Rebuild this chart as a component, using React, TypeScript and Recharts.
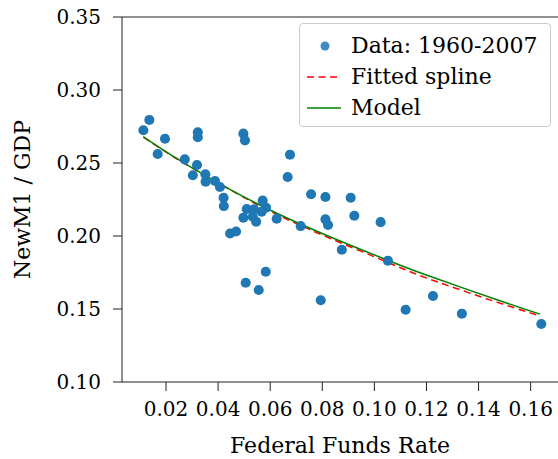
import { ComposedChart, Scatter, Line, XAxis, YAxis, ZAxis, Legend, ReferenceLine } from "recharts"

// annual observations, 1960-2007
const fundsRate = [
  0.0113, 0.0136, 0.0196, 0.0168, 0.0322, 0.0322, 0.0497, 0.0503, 0.0272, 0.0319, 0.0303, 0.0351,
  0.0352, 0.0388, 0.0407, 0.0421, 0.0422, 0.0571, 0.051, 0.0538, 0.0584, 0.0567, 0.0497, 0.0533,
  0.0546, 0.0625, 0.0446, 0.0469, 0.0583, 0.0506, 0.0556, 0.0676, 0.0667, 0.0757, 0.0812, 0.0909,
  0.0717, 0.0812, 0.0822, 0.0923, 0.1024, 0.0875, 0.1052, 0.0794, 0.112, 0.1225, 0.1336, 0.1641,
]
const m1Ratio = [
  0.2724, 0.2795, 0.2666, 0.2562, 0.271, 0.2676, 0.2701, 0.2655, 0.2525, 0.2486, 0.2416, 0.2423,
  0.2372, 0.2377, 0.2336, 0.2262, 0.2205, 0.2242, 0.2185, 0.2183, 0.2194, 0.2166, 0.2125, 0.2132,
  0.2098, 0.2118, 0.2017, 0.2031, 0.1755, 0.168, 0.163, 0.2557, 0.2404, 0.2286, 0.2267, 0.2262,
  0.2068, 0.2114, 0.2075, 0.2139, 0.2095, 0.1906, 0.1831, 0.156, 0.1495, 0.1589, 0.1468, 0.1397,
]

const curveRate = [0.0113, 0.019, 0.0254, 0.0299, 0.0433, 0.0599, 0.0804, 0.1041, 0.1213, 0.1482, 0.1636]
const modelRatio = [0.268, 0.2589, 0.2517, 0.2468, 0.2331, 0.2178, 0.2014, 0.1841, 0.1724, 0.1557, 0.1465]
const splineRatio = [0.2677, 0.2586, 0.2515, 0.2467, 0.233, 0.2171, 0.2004, 0.1827, 0.1704, 0.154, 0.1453]

const xTicks = [0.02, 0.04, 0.06, 0.08, 0.1, 0.12, 0.14, 0.16]
const yTicks = [0.1, 0.15, 0.2, 0.25, 0.3, 0.35]

const points = fundsRate.map((x, i) => ({ x, y: m1Ratio[i] }))
const model = curveRate.map((x, i) => ({ x, y: modelRatio[i] }))
const spline = curveRate.map((x, i) => ({ x, y: splineRatio[i] }))

const font = "'DejaVu Serif', serif"
const tickStyle = { fontFamily: font, fontSize: 20, fill: "#000" }

function LegendBox() {
  const row = { display: "flex", alignItems: "center", height: 31 }
  const text = { fontFamily: font, fontSize: 22, color: "#000", marginLeft: 10, lineHeight: "31px" }
  return (
    <div
      style={{
        width: 252,
        height: 104,
        boxSizing: "border-box",
        border: "1px solid #cccccc",
        borderRadius: 4,
        background: "rgba(255,255,255,0.8)",
        padding: "6px 0 0 7px",
      }}
    >
      <div style={row}>
        <svg width={34} height={20}>
          <circle cx={18} cy={10} r={4.5} fill="#1f77b4" fillOpacity={0.85} />
        </svg>
        <span style={text}>Data: 1960-2007</span>
      </div>
      <div style={row}>
        <svg width={34} height={20}>
          <line x1={0} y1={10} x2={34} y2={10} stroke="#ff0000" strokeWidth={1.5} strokeDasharray="7 4.5" />
        </svg>
        <span style={text}>Fitted spline</span>
      </div>
      <div style={row}>
        <svg width={34} height={20}>
          <line x1={0} y1={10} x2={34} y2={10} stroke="#008000" strokeWidth={1.5} />
        </svg>
        <span style={text}>Model</span>
      </div>
    </div>
  )
}

export default function App() {
  return (
    <div style={{ position: "absolute", left: 0, top: 0, width: 558, height: 459, background: "#fff" }}>
      <ComposedChart width={558} height={459} margin={{ top: 17, right: 0, bottom: 0, left: 0 }}>
        <XAxis
          type="number"
          dataKey="x"
          domain={[0.0031, 0.1705]}
          allowDataOverflow
          ticks={xTicks}
          tickFormatter={(v) => v.toFixed(2)}
          tick={tickStyle}
          tickSize={9}
          tickMargin={11}
          height={77}
          stroke="#222"
          label={{ value: "Federal Funds Rate", position: "insideBottom", offset: 6, style: { fontFamily: font, fontSize: 22, fill: "#000" } }}
        />
        <YAxis
          type="number"
          dataKey="y"
          domain={[0.1, 0.35]}
          allowDataOverflow
          ticks={yTicks}
          tickFormatter={(v) => v.toFixed(2)}
          tick={tickStyle}
          tickSize={9}
          tickMargin={12}
          width={122}
          stroke="#222"
          label={{
            value: "NewM1 / GDP",
            angle: -90,
            position: "insideLeft",
            offset: 22,
            style: { textAnchor: "middle", fontFamily: font, fontSize: 22, fill: "#000" },
          }}
        />
        <ZAxis range={[80, 80]} />
        <ReferenceLine y={0.35} stroke="#222" />
        <Scatter data={points} fill="#1f77b4" shape="circle" isAnimationActive={false} />
        <Line
          data={spline}
          dataKey="y"
          type="natural"
          stroke="#ff0000"
          strokeWidth={1.5}
          strokeDasharray="7 4.5"
          dot={false}
          isAnimationActive={false}
        />
        <Line
          data={model}
          dataKey="y"
          type="natural"
          stroke="#008000"
          strokeWidth={1.5}
          dot={false}
          isAnimationActive={false}
        />
        <Legend
          layout="horizontal"
          verticalAlign="middle"
          align="center"
          wrapperStyle={{ top: 23, left: 299, width: 252 }}
          content={() => <LegendBox />}
        />
      </ComposedChart>
    </div>
  )
}
